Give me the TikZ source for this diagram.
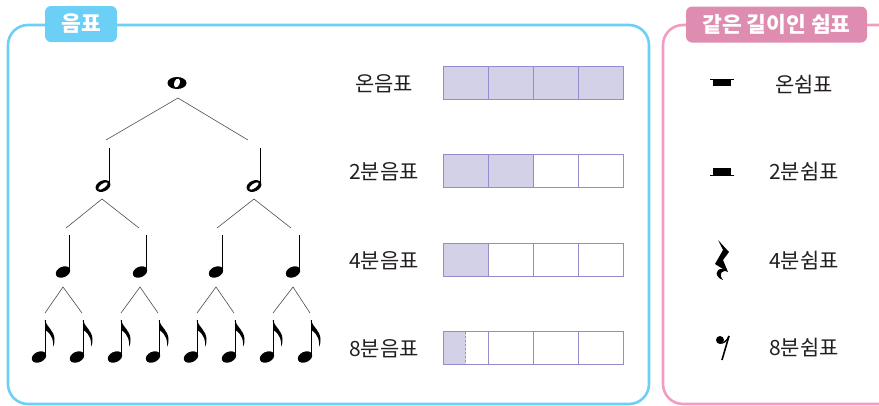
\documentclass[tikz,border=0pt]{standalone}
\usepackage{fontspec}
\setmainfont{Noto Sans CJK KR}
\usepackage{xcolor}
\usepackage{tikz}
\usetikzlibrary{calc, positioning}

\definecolor{skyline}{HTML}{6BCFF6}
\definecolor{pinkline}{HTML}{F29CC3}
\definecolor{pinktag}{HTML}{DE8DB1}
\definecolor{barfill}{HTML}{D3D1E8}
\definecolor{barline}{HTML}{968CCB}
\definecolor{ink}{HTML}{231F20}

\tikzset{
  stem/.style={line width=1.1pt, line cap=butt},
  branch/.style={line width=0.6pt, black!70},
  lab/.style={text=ink, font=\fontsize{21}{24}\selectfont, inner sep=0pt},
  tagbox/.style={rounded corners=6pt, minimum height=36pt, inner sep=0pt,
    text=white, font=\bfseries\fontsize{21.5}{24}\selectfont},
  cell/.style={draw=barline, line width=1pt, minimum width=45pt,
    minimum height=33pt, inner sep=0pt},
  wholenote/.pic={
    \fill (0,0) ellipse [x radius=9.5, y radius=6];
    \fill[white, rotate=-20] (0,0) ellipse [x radius=2.8, y radius=4.6];},
  halfnote/.pic={
    \fill[rotate=25] (0,0) ellipse [x radius=7.8, y radius=5.4];
    \fill[white, rotate=35] (0,0) ellipse [x radius=5.6, y radius=2.2];
    \draw[stem] (6.6,-1) -- (6.6,-38);},
  quarternote/.pic={
    \fill[rotate=25] (0,0) ellipse [x radius=7.6, y radius=5.2];
    \draw[stem] (6.4,-1) -- (6.4,-37);},
  eighthnote/.pic={
    \fill[rotate=25] (0,0) ellipse [x radius=7.6, y radius=5.2];
    \draw[stem] (6.4,-1) -- (6.4,-37);
    \fill (5.9,-37) .. controls (7.5,-30) and (15,-27) .. (15.5,-18)
      .. controls (15.8,-15) and (15,-12) .. (14,-10)
      .. controls (14.8,-16) and (13.5,-22) .. (6.4,-27) -- cycle;},
}

\begin{document}
\begin{tikzpicture}[x=1pt, y=-1pt]
    \useasboundingbox (0,0) rectangle (879,405);
    \clip (0,0) rectangle (879,405);

    % 1. Khung va nhan
    \draw[skyline, line width=2.6pt, rounded corners=20pt] (8,25) rectangle (649,404);
    \draw[pinkline, line width=2.6pt, rounded corners=20pt] (663,25) rectangle (910,404);
    \node[tagbox, fill=skyline, minimum width=72pt] (tag1) at (81,24) {음표};
    \node[tagbox, fill=pinktag, minimum width=181pt] (tag2) at (776.5,24.5) {같은 길이인 쉼표};

    % 2. Cay not nhac
    \coordinate (w) at (177,83);
    \coordinate (h1) at (103,186);
    \coordinate (h2) at (254,186);
    \foreach \i/\x in {1/63, 2/140, 3/216, 4/293}
        \coordinate (q\i) at (\x,272);
    \foreach \i/\x in {1/39, 2/77, 3/115, 4/153, 5/191, 6/229, 7/267, 8/305}
        \coordinate (e\i) at (\x,357);

    \pic at (w) {wholenote};
    \pic at (h1) {halfnote};
    \pic at (h2) {halfnote};
    \foreach \i in {1,...,4}
        \pic at (q\i) {quarternote};
    \foreach \i in {1,...,8}
        \pic at (e\i) {eighthnote};

    \draw[branch] ($(h1)+(3,-46)$) -- ($(w)+(1,15)$) -- ($(h2)+(-6,-46)$);
    \draw[branch] ($(q1)+(3,-44)$) -- ($(h1)+(-1,13)$) -- ($(q2)+(-1,-44)$);
    \draw[branch] ($(q3)+(1,-44)$) -- ($(h2)+(0,13)$) -- ($(q4)+(-2,-44)$);
    \foreach \p/\a/\b in {q1/e1/e2, q2/e3/e4, q3/e5/e6, q4/e7/e8}
        \draw[branch] ($(\a)+(6,-44)$) -- ($(\p)+(0,15)$) -- ($(\b)+(5,-44)$);

    % 3. Nhan va thanh do dai
    \node[lab] (l1) at (384,84) {온음표};
    \node[lab] (l2) at (384,172) {2분음표};
    \node[lab] (l3) at (384,261) {4분음표};
    \node[lab] (l4) at (384,349) {8분음표};

    \foreach \r/\y/\n in {1/82.5/4, 2/171/2, 3/259.5/1, 4/348/0}
        \foreach \c in {1,...,4} {
            \ifnum\c>\n \def\fc{white}\else\def\fc{barfill}\fi
            \node[cell, fill=\fc] (b\r-\c) at ({420.5+45*\c},\y) {};
        }
    \fill[barfill] ([shift={(1,1)}]b4-1.north west) rectangle ([shift={(0,-1)}]b4-1.south);
    \draw[barline, line width=1pt, dash pattern=on 2pt off 2pt]
        ([shift={(0,1)}]b4-1.north) -- ([shift={(0,-1)}]b4-1.south);

    % 4. Dau lang
    \coordinate (s1) at (722,79);
    \coordinate (s2) at (722,175);
    \coordinate (s3) at (722,260);
    \coordinate (s4) at (722,348);

    \draw[line width=0.8pt] ($(s1)+(-12,0)$) -- ($(s1)+(12,0)$);
    \fill ($(s1)+(-9,0)$) rectangle ($(s1)+(9,7)$);
    \draw[line width=0.8pt] ($(s2)+(-12,0)$) -- ($(s2)+(12,0)$);
    \fill ($(s2)+(-9,0)$) rectangle ($(s2)+(9,-7)$);
    \fill[shift={(s3)}] (-4,-20) -- (7,-8) -- (1,0)
        -- (6,12) .. controls (0,9) and (-4,14) .. (1,20)
        .. controls (-8,17) and (-7,8) .. (1,9)
        -- (-7,4) -- (1,-10) -- cycle;
    \fill ($(s4)+(-2,-8)$) circle (4);
    \draw[line width=1.6pt] ($(s4)+(0,12)$) -- ($(s4)+(7,-12)$);
    \draw[line width=1.3pt] ($(s4)+(-2,-5)$) .. controls ($(s4)+(1,-4)$)
        and ($(s4)+(5,-7)$) .. ($(s4)+(7,-12)$);

    \node[lab] (r1) at (804,85) {온쉼표};
    \node[lab] (r2) at (804,172) {2분쉼표};
    \node[lab] (r3) at (804,261) {4분쉼표};
    \node[lab] (r4) at (804,348) {8분쉼표};
\end{tikzpicture}
\end{document}
